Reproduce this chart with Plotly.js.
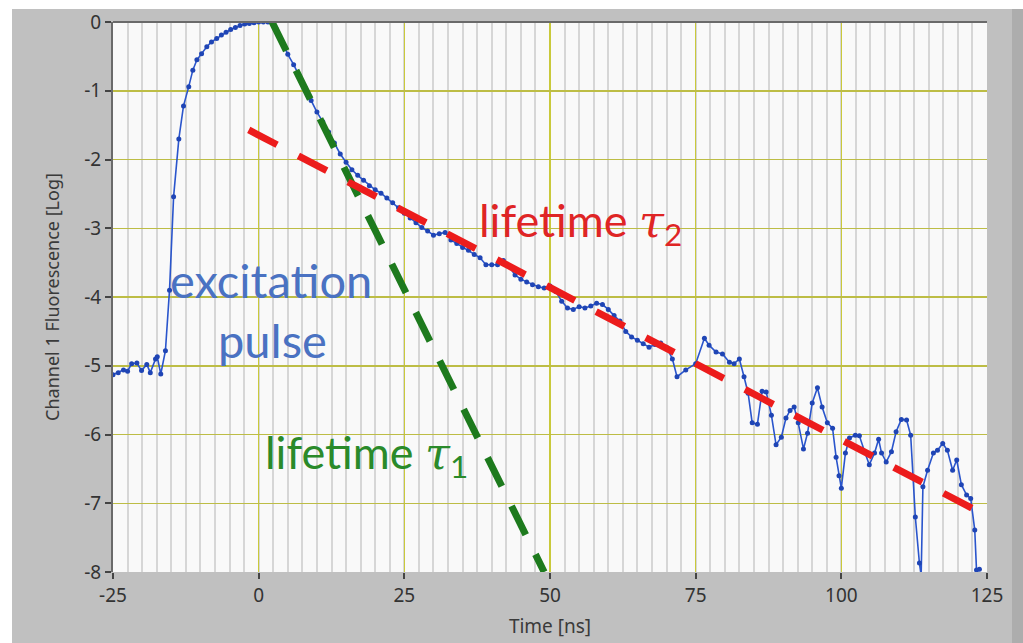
<!DOCTYPE html>
<html>
<head>
<meta charset="utf-8">
<script src="https://cdn.plot.ly/plotly-3.0.1.min.js"></script>
<style>
  html, body { margin: 0; padding: 0; background: #ffffff; width: 1023px; height: 643px; overflow: hidden; }
  #plot { position: absolute; left: 0; top: 0; width: 1012px; height: 643px; }
  #edge { position: absolute; left: 1012px; top: 9px; width: 11px; height: 634px; background: #adadad; }
  #topstrip { position: absolute; left: 0; top: 0; width: 1023px; height: 9px; background: #ffffff; z-index: 5; }
  #leftstrip { position: absolute; left: 0; top: 0; width: 12px; height: 643px; background: #ffffff; z-index: 5; }
</style>
</head>
<body>
<div id="plot"></div>
<div id="edge"></div>
<div id="topstrip"></div>
<div id="leftstrip"></div>
<script>
// ---- data ----
const timeNs = [
  -25, -24.1, -23.2, -22.5, -21.8, -20.9, -20.1, -19.2, -18.6, -17.7, -17.4, -16.8, -16.0,
  -15.3, -14.6, -13.7, -12.9, -12.0, -11.3, -10.6, -9.8, -8.9, -8.1, -7.2, -6.4, -5.6,
  -4.8, -4.0, -3.2, -2.4, -1.6, -0.8, 0, 0.8, 1.6, 2.4,
  3, 4, 5, 6, 7, 8, 9, 10, 11, 12, 13, 14, 15, 16, 17, 18, 19, 20, 21, 22, 23, 24, 25,
  26, 27, 28, 29, 30, 31, 32, 33, 34, 35, 36, 37, 38, 39, 40, 41, 42, 43, 44, 45, 46,
  47, 48, 49, 50, 51, 52, 53, 54, 55, 56, 57, 58, 59, 60, 61, 62, 63, 64, 65, 66, 67,
  68, 69, 70, 71, 71.8, 73.3, 75, 76.5, 77.3, 78.5, 79.6, 80.8, 81.6, 82.5, 83.3, 84,
  84.7, 85.6, 86.4, 87.1, 88, 88.8, 89.7, 90.5, 91.2, 91.9, 92.6, 93.5, 94.2, 95, 95.9,
  96.7, 97.6, 98.5, 99.1, 99.6, 100, 100.7, 101.4, 102.4, 103.1, 104, 104.8, 105.7,
  106.4, 106.9, 107.7, 108.6, 109.4, 110.3, 111.2, 111.9, 112.7, 113.4, 113.7, 114,
  114.8, 115.8, 116.5, 117.4, 118.2, 119.1, 119.8, 120.6, 121.5, 122.2, 122.9, 123.2, 123.7
];
const fluorLog = [
  -5.13, -5.10, -5.06, -5.08, -4.97, -4.96, -5.07, -4.98, -5.10, -4.90, -4.87, -5.12, -4.78,
  -3.90, -2.54, -1.70, -1.22, -0.94, -0.70, -0.55, -0.46, -0.36, -0.29, -0.24, -0.19, -0.15,
  -0.11, -0.08, -0.05, -0.03, -0.02, -0.01, 0, 0, 0, -0.02,
  -0.10, -0.28, -0.47, -0.62, -0.78, -0.96, -1.14, -1.31, -1.45, -1.60, -1.76, -1.92, -2.04,
  -2.15, -2.23, -2.30, -2.38, -2.44, -2.49, -2.56, -2.63, -2.70, -2.78,
  -2.85, -2.92, -2.99, -3.04, -3.10, -3.08, -3.06, -3.17, -3.22, -3.28, -3.32, -3.38, -3.43,
  -3.53, -3.53, -3.53, -3.47, -3.56, -3.68, -3.74, -3.78,
  -3.82, -3.85, -3.87, -3.84, -3.92, -4.06, -4.16, -4.18, -4.14, -4.16, -4.13, -4.09, -4.11,
  -4.18, -4.27, -4.35, -4.50, -4.58, -4.63, -4.68, -4.73,
  -4.69, -4.67, -4.73, -4.90, -5.16, -5.06, -4.97, -4.60, -4.70, -4.80, -4.83, -4.95, -4.97,
  -4.90, -5.16, -5.40,
  -5.83, -5.85, -5.37, -5.38, -5.72, -6.15, -6.04, -5.76, -5.65, -5.60, -5.83, -6.21, -5.98,
  -5.54, -5.32,
  -5.60, -5.83, -5.91, -6.33, -6.60, -6.78, -6.27, -6.05, -6.01, -6.02, -6.25, -6.44, -6.27,
  -6.07, -6.27, -6.40, -6.25, -5.96, -5.78, -5.79, -6.01, -7.20, -7.87, -8.05, -6.76,
  -6.52, -6.27, -6.23, -6.13, -6.23, -6.52, -6.37, -6.73, -6.88, -6.93, -7.39, -7.97, -7.96
];
// fitted decay lines (lifetime tau1, tau2)
const tau1X = [2.3, 49];
const tau1Y = [0, -8];
const tau2X = [-1.7, 126];
const tau2Y = [-1.57, -7.23];

const xTickVals = [-25, 0, 25, 50, 75, 100, 125];
const xTickText = ['-25', '0', '25', '50', '75', '100', '125'];
const yTickVals = [0, -1, -2, -3, -4, -5, -6, -7, -8];
const yTickText = ['0', '-1', '-2', '-3', '-4', '-5', '-6', '-7', '-8'];

const tickFont = { family: 'Noto Sans, Open Sans, sans-serif', size: 19, color: '#333333' };

const traces = [
  {
    x: timeNs, y: fluorLog, type: 'scatter', mode: 'lines+markers',
    line: { color: '#2a55cc', width: 1.6 },
    marker: { color: '#1f45b5', size: 5 },
    hoverinfo: 'skip', showlegend: false
  },
  {
    x: tau1X, y: tau1Y, type: 'scatter', mode: 'lines',
    line: { color: '#1d7a1d', width: 7, dash: '32px,22px' },
    hoverinfo: 'skip', showlegend: false
  },
  {
    x: tau2X, y: tau2Y, type: 'scatter', mode: 'lines',
    line: { color: '#ec1c1c', width: 7, dash: '32px,24px' },
    hoverinfo: 'skip', showlegend: false
  }
];

const tauStyle = 'font-family:DejaVu Serif, Liberation Serif, serif;font-style:italic';

const layout = {
  width: 1012, height: 643,
  margin: { l: 113, r: 25, t: 22, b: 71, pad: 0 },
  paper_bgcolor: '#c0c0c0',
  plot_bgcolor: '#f9f9f9',
  showlegend: false,
  xaxis: {
    range: [-25, 125], tickvals: xTickVals, ticktext: xTickText,
    ticks: 'outside', ticklen: 6, tickwidth: 2, tickcolor: '#444',
    showgrid: true, gridcolor: '#c9c93a', gridwidth: 1.5,
    minor: { dtick: 2.5, tick0: 0, showgrid: true, gridcolor: '#d6d6d6', gridwidth: 2, ticks: '' },
    zeroline: false, showline: false, tickfont: tickFont,
    title: { text: 'Time [ns]', font: { family: 'Noto Sans, Open Sans, sans-serif', size: 19, color: '#3a3a3a' }, standoff: 12 }
  },
  yaxis: {
    range: [-8, 0], tickvals: yTickVals, ticktext: yTickText,
    ticks: 'outside', ticklen: 6, tickwidth: 2, tickcolor: '#444',
    showgrid: true, gridcolor: '#bdbd45', gridwidth: 1.5,
    zeroline: false, showline: true, linecolor: '#6a6a6a', linewidth: 2,
    tickfont: tickFont,
    title: { text: 'Channel 1 Fluorescence [Log]', font: { family: 'Noto Sans, Open Sans, sans-serif', size: 18, color: '#3a3a3a' }, standoff: 20 }
  },
  shapes: [
    { type: 'line', xref: 'paper', yref: 'paper', x0: 0, x1: 1, y0: 1, y1: 1, line: { color: '#6a6a6a', width: 2 } }
  ],
  annotations: [
    { xref: 'x', yref: 'y', x: 2.1, y: -3.75, text: 'excitation', showarrow: false,
      font: { family: 'Lato, Open Sans, sans-serif', size: 47, color: '#4a72c2' } },
    { xref: 'x', yref: 'y', x: 2.4, y: -4.62, text: 'pulse', showarrow: false,
      font: { family: 'Lato, Open Sans, sans-serif', size: 47, color: '#4a72c2' } },
    { xref: 'x', yref: 'y', x: 55.2, y: -2.93, showarrow: false,
      text: 'lifetime <span style="' + tauStyle + '">τ</span><sub>2</sub>',
      font: { family: 'Lato, Open Sans, sans-serif', size: 45, color: '#df2525' } },
    { xref: 'x', yref: 'y', x: 18.5, y: -6.3, showarrow: false,
      text: 'lifetime <span style="' + tauStyle + '">τ</span><sub>1</sub>',
      font: { family: 'Lato, Open Sans, sans-serif', size: 45, color: '#2a8a2a' } }
  ]
};

Plotly.newPlot('plot', traces, layout, { staticPlot: true, displayModeBar: false });
</script>
</body>
</html>
